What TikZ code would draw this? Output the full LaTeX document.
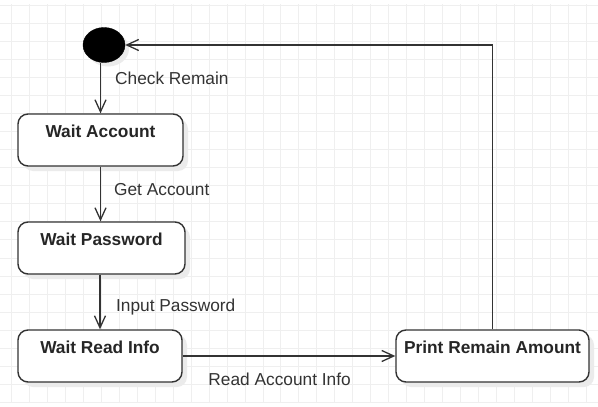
\documentclass[tikz,border=0pt]{standalone}
\usepackage{fontspec}
\setmainfont{Liberation Sans}
\usetikzlibrary{arrows.meta,shapes.geometric,shadows}
\definecolor{gridgray}{HTML}{EFEFEF}
\definecolor{linegray}{HTML}{333333}
\tikzset{gridline/.style={gridgray, line width=1pt},
  state/.style={draw=linegray, line width=1.4pt, rounded corners=10pt, fill=white, minimum height=52pt, inner ysep=0pt, text height=23pt, text depth=29pt, font=\fontsize{17.3}{20}\selectfont\bfseries, text=black!85, drop shadow={shadow xshift=5pt, shadow yshift=-5pt, fill=black!8, opacity=1}},
  initstate/.style={ellipse, draw=black, fill=black, minimum width=42pt, minimum height=35pt, inner sep=0pt, drop shadow={shadow xshift=4pt, shadow yshift=-4pt, fill=black!8, opacity=1}},
  trans/.style={draw=linegray, line width=1.3pt, -{Straight Barb[length=12pt,width=11pt,line width=1.3pt]}},
  elabel/.style={font=\fontsize{17.3}{20}\selectfont, text=linegray, inner sep=0pt}}

\begin{document}
\begin{tikzpicture}[x=1pt,y=-1pt]
  \useasboundingbox (0,0) rectangle (598,407);
  \fill[white] (0,0) rectangle (598,407);
  \foreach \i in {0,...,32} \draw[gridline] ({11.7+17.95*\i},4) -- ({11.7+17.95*\i},403);
  \foreach \j in {0,...,22} \draw[gridline] (0,{5.3+18.05*\j}) -- (598,{5.3+18.05*\j});
  \node[initstate] (init) at (104,45) {};
  \node[state, minimum width=165pt] (wacc) at (100.5,140) {Wait Account};
  \node[state, minimum width=167pt] (wpwd) at (101.5,248) {Wait Password};
  \node[state, minimum width=164pt] (wread) at (100,356) {Wait Read Info};
  \node[state, minimum width=193pt] (print) at (492.5,356) {Print Remain Amount};
  \draw[trans] (init.south -| wacc.north) -- node[elabel, pos=0.43, anchor=base west, xshift=14pt] (lcheck) {Check Remain} (wacc.north);
  \draw[trans] (wacc.south) -- node[elabel, pos=0.52, anchor=base west, xshift=13pt] (lget) {Get Account} (wacc.south |- wpwd.north);
  \draw[trans] (wpwd.south -| wread.north) -- node[elabel, pos=0.67, anchor=base west, xshift=15.5pt] (linput) {Input Password} (wread.north);
  \draw[trans] (wread.east) -- node[elabel, pos=0.456, anchor=base, yshift=-29pt] (lread) {Read Account Info} (print.west);
  \draw[trans] (print.north) |- (init.east);
\end{tikzpicture}
\end{document}
